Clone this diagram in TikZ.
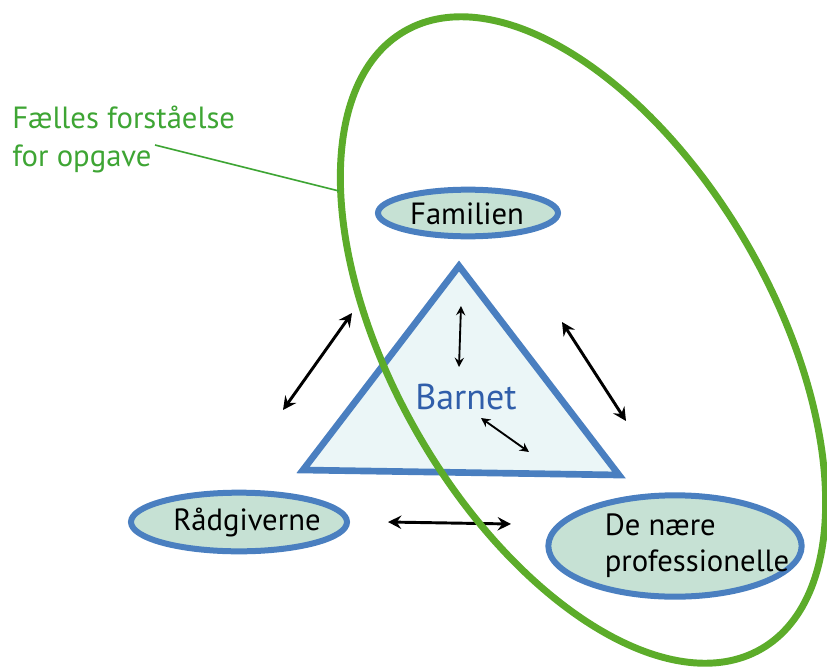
\documentclass[tikz,border=0pt]{standalone}
\usepackage{fontspec}
\setmainfont{PT Sans}
\usetikzlibrary{shapes.geometric, arrows.meta}

\definecolor{ringgreen}{RGB}{92,172,42}
\definecolor{textgreen}{RGB}{62,165,52}
\definecolor{edgeblue}{RGB}{74,127,192}
\definecolor{bubblefill}{RGB}{198,225,212}
\definecolor{trifill}{RGB}{235,246,247}
\definecolor{childblue}{RGB}{48,94,170}

\tikzset{
  party/.style={ellipse, draw=edgeblue, line width=4.5pt, fill=bubblefill, inner sep=0pt},
  partytext/.style={inner sep=0pt, font=\fontsize{23}{27}\selectfont},
  link/.style={{Stealth[length=10pt,width=10pt,inset=3.5pt]}-{Stealth[length=10pt,width=10pt,inset=3.5pt]}, line width=2.2pt},
  innerlink/.style={{Stealth[length=7pt,width=7pt,inset=2.5pt]}-{Stealth[length=7pt,width=7pt,inset=2.5pt]}, line width=1.4pt}
}

\begin{document}
\begin{tikzpicture}[x=0.75pt, y=-0.75pt]
  \useasboundingbox (0,0) rectangle (827,667);

  % Triangle
  \coordinate (top) at (459,266);
  \coordinate (left) at (303,470);
  \coordinate (right) at (619,475);
  \draw[draw=edgeblue, line width=5pt, fill=trifill, line join=miter]
     (top) -- (left) -- (right) -- cycle;
  \node[inner sep=0pt, text=childblue, font=\fontsize{27}{31}\selectfont] (child) at (466,397) {Barnet};

  % Parties
  \node[party, minimum width=135pt, minimum height=35pt] (fam) at (468,213) {};
  \node[partytext] (famtext) at (467,214) {Familien};
  \node[party, minimum width=162pt, minimum height=44pt] (adv) at (239,522) {};
  \node[partytext] (advtext) at (247,522) {Rådgiverne};
  \node[party, minimum width=190pt, minimum height=76pt] (pro) at (675,546) {};
  \node[partytext, align=left] (protext) at (697,546) {De nære\\professionelle};

  % Arrows between parties
  \coordinate (a1) at (283,410);
  \coordinate (a2) at (352,313);
  \coordinate (b1) at (562,322);
  \coordinate (b2) at (626,421);
  \coordinate (c1) at (388,522);
  \coordinate (c2) at (511,524);
  \draw[link] (a1) -- (a2);
  \draw[link] (b1) -- (b2);
  \draw[link] (c1) -- (c2);

  % Arrows inside
  \coordinate (d1) at (461,306);
  \coordinate (d2) at (459,367);
  \coordinate (e1) at (481,418);
  \coordinate (e2) at (529,452);
  \draw[innerlink] (d1) -- (d2);
  \draw[innerlink] (e1) -- (e2);

  % Shared ring
  \node[draw=ringgreen, line width=5.2pt, ellipse, rotate=-60, inner sep=0pt,
        minimum width=535pt, minimum height=285pt] (ring) at (583,340) {};

  % Ring label
  \node[anchor=north west, inner sep=0pt, align=left, text=textgreen,
        font=\fontsize{23}{28.5}\selectfont] (shared) at (12,106) {Fælles forståelse\\for opgave};
  \coordinate (lead1) at (155,145);
  \coordinate (lead2) at (339,191);
  \draw[textgreen, line width=1.2pt] (lead1) -- (lead2);
\end{tikzpicture}
\end{document}
